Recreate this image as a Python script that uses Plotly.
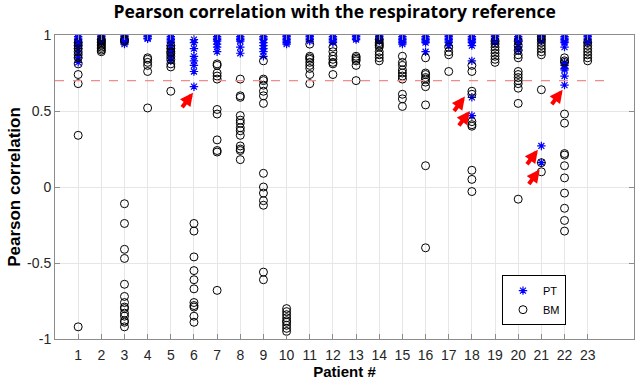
import plotly.graph_objects as go

patients = list(range(1, 24))
tick_labels = [str(p) for p in patients]

pt_values = [
    [0.99, 0.98, 0.97, 0.96, 0.95, 0.94, 0.93, 0.91, 0.88, 0.85, 0.82],
    [0.995, 0.99, 0.98, 0.97, 0.96, 0.95],
    [0.995, 0.99, 0.98, 0.97, 0.96, 0.95, 0.94],
    [0.995, 0.99, 0.98, 0.975],
    [0.99, 0.98, 0.97, 0.96, 0.95, 0.93, 0.91, 0.89, 0.87, 0.85, 0.83],
    [0.97, 0.95, 0.91, 0.86, 0.83, 0.80, 0.76, 0.66],
    [0.99, 0.98, 0.97, 0.96, 0.94, 0.92, 0.89],
    [0.99, 0.98, 0.97, 0.96, 0.92, 0.88],
    [0.99, 0.98, 0.97, 0.95, 0.93, 0.91, 0.89, 0.86],
    [0.995, 0.99, 0.98, 0.97, 0.96, 0.95, 0.94],
    [0.995, 0.99, 0.98, 0.97, 0.96],
    [0.99, 0.98, 0.97, 0.96, 0.95],
    [0.995, 0.99, 0.98, 0.97],
    [0.995, 0.99, 0.98, 0.97, 0.96],
    [0.99, 0.98, 0.97, 0.96, 0.95, 0.94],
    [0.99, 0.98, 0.97, 0.96, 0.95, 0.89],
    [0.995, 0.99, 0.98, 0.97, 0.96, 0.95, 0.93],
    [0.99, 0.98, 0.97, 0.96, 0.95, 0.93, 0.83, 0.59, 0.47],
    [0.995, 0.99, 0.98, 0.97, 0.96, 0.95],
    [0.99, 0.98, 0.97, 0.96, 0.94, 0.92, 0.90],
    [0.995, 0.99, 0.98, 0.97, 0.96, 0.27, 0.16],
    [0.99, 0.98, 0.97, 0.96, 0.95, 0.92, 0.82, 0.80, 0.78, 0.77, 0.73, 0.67],
    [0.995, 0.99, 0.98, 0.97, 0.96, 0.95],
]

bm_values = [
    [0.95, 0.93, 0.91, 0.89, 0.87, 0.85, 0.81, 0.74, 0.68, 0.34, -0.92],
    [0.97, 0.96, 0.95, 0.94, 0.93, 0.92, 0.91, 0.90, 0.89],
    [0.97, 0.96, -0.11, -0.24, -0.41, -0.47, -0.64, -0.72, -0.76, -0.79, -0.80, -0.83, -0.85, -0.88, -0.89, -0.92],
    [0.85, 0.84, 0.82, 0.80, 0.76, 0.52],
    [0.93, 0.91, 0.89, 0.88, 0.86, 0.84, 0.81, 0.79, 0.63],
    [-0.24, -0.29, -0.46, -0.55, -0.61, -0.67, -0.76, -0.78, -0.79, -0.85, -0.89],
    [0.81, 0.80, 0.75, 0.73, 0.71, 0.51, 0.48, 0.31, 0.24, 0.23, -0.68],
    [0.71, 0.60, 0.59, 0.47, 0.44, 0.42, 0.39, 0.37, 0.34, 0.27, 0.25, 0.24, 0.18],
    [0.83, 0.71, 0.70, 0.67, 0.63, 0.60, 0.55, 0.09, 0.0, -0.04, -0.09, -0.12, -0.56, -0.61],
    [-0.80, -0.82, -0.84, -0.86, -0.88, -0.89, -0.91, -0.93, -0.95],
    [0.94, 0.86, 0.85, 0.84, 0.82, 0.80, 0.78, 0.74, 0.68],
    [0.92, 0.89, 0.86, 0.84, 0.82, 0.81, 0.74],
    [0.86, 0.85, 0.84, 0.83, 0.80, 0.70],
    [0.97, 0.95, 0.94, 0.93, 0.92, 0.89, 0.87, 0.85, 0.83],
    [0.86, 0.82, 0.80, 0.77, 0.75, 0.73, 0.71, 0.61, 0.58, 0.53],
    [0.85, 0.75, 0.74, 0.72, 0.71, 0.69, 0.66, 0.54, 0.14, -0.40],
    [0.92, 0.89, 0.87, 0.76],
    [0.80, 0.76, 0.63, 0.61, 0.43, 0.41, 0.40, 0.11, 0.05, -0.03],
    [0.96, 0.94, 0.92, 0.90, 0.88, 0.86, 0.84, 0.82],
    [0.96, 0.93, 0.90, 0.87, 0.85, 0.76, 0.74, 0.72, 0.70, 0.68, 0.65, 0.55, -0.08],
    [0.99, 0.97, 0.95, 0.93, 0.91, 0.89, 0.87, 0.64, 0.16, 0.10],
    [0.85, 0.83, 0.82, 0.48, 0.42, 0.22, 0.21, 0.14, 0.06, -0.04, -0.14, -0.22, -0.29],
    [0.95, 0.93, 0.91, 0.89, 0.87, 0.85, 0.83],
]

threshold = 0.7
threshold_end = 24

# arrow head positions (patient, correlation) of highlighted PT points
arrow_x = [5.96, 17.70, 17.91, 20.85, 20.93, 21.92]
arrow_y = [0.62, 0.595, 0.50, 0.245, 0.115, 0.64]

def flatten(values):
    xs, ys = [], []
    for p, vals in zip(patients, values):
        xs += [p] * len(vals)
        ys += vals
    return xs, ys

pt_x, pt_y = flatten(pt_values)
bm_x, bm_y = flatten(bm_values)

fig = go.Figure()
fig.add_trace(go.Scatter(
    x=pt_x, y=pt_y, mode="markers", name="PT",
    marker=dict(symbol="asterisk-open", size=7, color="rgb(0,0,255)",
                line=dict(color="rgb(0,0,255)", width=1.2)),
))
fig.add_trace(go.Scatter(
    x=bm_x, y=bm_y, mode="markers", name="BM",
    marker=dict(symbol="circle-open", size=8, color="black",
                line=dict(color="black", width=1)),
))

fig.add_shape(type="line", xref="x", yref="y", x0=0, x1=threshold_end,
              y0=threshold, y1=threshold,
              line=dict(color="rgb(240,140,140)", width=1.3, dash="dash"))

for ax_, ay_ in zip(arrow_x, arrow_y):
    fig.add_annotation(x=ax_, y=ay_, xref="x", yref="y", ax=-12, ay=16,
                       showarrow=True, arrowhead=2, arrowsize=0.65,
                       arrowwidth=4, arrowcolor="rgb(255,0,0)", text="")

fig.update_layout(
    width=640, height=384,
    margin=dict(l=55, r=6, t=35, b=45),
    paper_bgcolor="white", plot_bgcolor="white",
    title=dict(text="<b>Pearson correlation with the respiratory reference</b>",
               x=0.523, xanchor="center", y=0.985, yanchor="top",
               pad=dict(t=0, b=0, l=0, r=0),
               font=dict(family="Open Sans, Liberation Sans, Arial", size=17.5, color="black")),
    font=dict(family="Liberation Sans, Arial", size=13, color="rgb(38,38,38)"),
    showlegend=True,
    legend=dict(x=0.772, y=0.21, xanchor="left", yanchor="top",
                bgcolor="white", bordercolor="black", borderwidth=1,
                font=dict(size=11, color="black"), tracegroupgap=0,
                itemwidth=30),
)

fig.update_xaxes(
    range=[0, 25], tickmode="array", tickvals=patients, ticktext=tick_labels,
    automargin=False,
    showgrid=True, gridcolor="rgb(230,230,230)", gridwidth=1,
    showline=True, linecolor="rgb(140,140,140)", linewidth=1, mirror="ticks",
    ticks="inside", ticklen=5, tickcolor="rgb(140,140,140)",
    ticklabelstandoff=3,
    zeroline=False,
    title=dict(text="<b>Patient #</b>", standoff=4,
               font=dict(size=15, color="black")),
    tickfont=dict(size=14, color="rgb(38,38,38)"),
)
fig.update_yaxes(
    range=[-1, 1], tickmode="array", tickvals=[-1, -0.5, 0, 0.5, 1],
    ticktext=["-1", "-0.5", "0", "0.5", "1"],
    automargin=False,
    showgrid=True, gridcolor="rgb(230,230,230)", gridwidth=1,
    showline=True, linecolor="rgb(140,140,140)", linewidth=1, mirror="ticks",
    ticks="inside", ticklen=5, tickcolor="rgb(140,140,140)",
    zeroline=False,
    title=dict(text="<b>Pearson correlation</b>", standoff=2,
               font=dict(size=17, color="black")),
    tickfont=dict(size=14, color="rgb(38,38,38)"),
)

fig.write_html("out.html", config={"displayModeBar": False},
               post_script="document.body.style.margin='0';document.body.style.padding='0';")
